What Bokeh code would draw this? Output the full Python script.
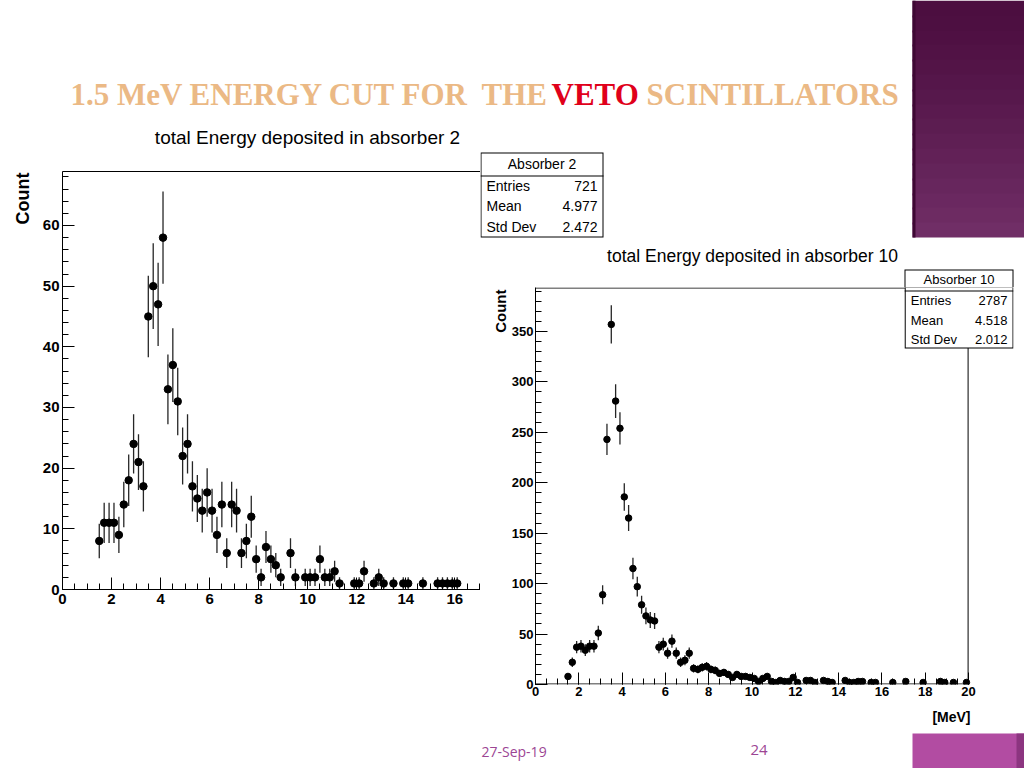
import numpy as np
from bokeh.plotting import figure
from bokeh.models import (Range1d, SingleIntervalTicker, FixedTicker, LinearAxis,
                          Label, BoxAnnotation, ColumnDataSource)
from bokeh.layouts import row, column
from bokeh.embed import file_html
from bokeh.resources import INLINE

# ---------------- data ----------------
abs2_energy = [1.5, 1.7, 1.9, 2.1, 2.3, 2.5, 2.7, 2.9, 3.1, 3.3,
               3.5, 3.7, 3.9, 4.1, 4.3, 4.5, 4.7,
               4.9, 5.1, 5.3, 5.5, 5.7, 5.9, 6.1, 6.3, 6.5, 6.7,
               6.9, 7.1, 7.3, 7.5, 7.7, 7.9, 8.1, 8.3, 8.5, 8.7, 8.9,
               9.3, 9.5, 9.9, 10.1, 10.3, 10.5, 10.7, 10.9, 11.1, 11.3,
               11.9, 12.1, 12.3, 12.7, 12.9, 13.1, 13.5, 13.9, 14.1, 14.7,
               15.3, 15.5, 15.7, 15.9, 16.1]
abs2_count = [8, 11, 11, 11, 9, 14, 18, 24, 21, 17,
              45, 50, 47, 58, 33, 37, 31,
              22, 24, 17, 15, 13, 16, 13, 9, 14, 6,
              14, 13, 6, 8, 12, 5, 2, 7, 5, 4, 2,
              6, 2, 2, 2, 2, 5, 2, 2, 3, 1,
              1, 1, 3, 1, 2, 1, 1, 1, 1, 1,
              1, 1, 1, 1, 1]

abs10_energy = [1.5, 1.7, 1.9, 2.1, 2.3, 2.5, 2.7, 2.9, 3.1, 3.3,
                3.5, 3.7, 3.9, 4.1, 4.3, 4.5, 4.7, 4.9, 5.1, 5.3,
                5.5, 5.7, 5.9, 6.1, 6.3, 6.5, 6.7, 6.9, 7.1, 7.3,
                7.5, 7.7, 7.9, 8.1, 8.3, 8.5, 8.7, 8.9, 9.1, 9.3,
                9.5, 9.7, 9.9, 10.1, 10.3, 10.5, 10.7, 10.9, 11.1, 11.3,
                11.5, 11.7, 11.9, 12.1, 12.5, 12.7, 12.9, 13.3, 13.5, 13.7,
                14.3, 14.5, 14.7, 14.9, 15.1, 15.5, 15.7, 16.5, 17.1, 17.9,
                18.7, 18.9, 19.3, 19.9]
abs10_count = [8, 22, 37, 38, 34, 38, 38, 51, 89, 243,
               357, 281, 254, 186, 165, 115, 97, 79, 68, 64,
               63, 37, 40, 31, 43, 31, 22, 24, 31, 16,
               15, 17, 18, 15, 14, 11, 12, 10, 7, 10,
               8, 8, 7, 6, 3, 6, 8, 3, 2, 4,
               3, 3, 7, 2, 4, 4, 2, 4, 3, 2,
               4, 2, 2, 3, 3, 2, 2, 2, 3, 2,
               3, 2, 2, 2]

abs2_stats_title = "Absorber 2"
abs2_stats = [("Entries", "721"), ("Mean", "4.977"), ("Std Dev", "2.472")]
abs10_stats_title = "Absorber 10"
abs10_stats = [("Entries", "2787"), ("Mean", "4.518"), ("Std Dev", "2.012")]

title_part1 = "1.5 MeV ENERGY CUT FOR"
title_the, title_veto, title_scint = "THE", "VETO", "SCINTILLATORS"
hist2_title = "total Energy deposited in absorber 2"
hist10_title = "total Energy deposited in absorber 10"
y_label = "Count"
x_unit_label = "[MeV]"
footer_date = "27-Sep-19"
footer_page = "24"

# ---------------- geometry (page pixels) ----------------
A_XMAX, A_YMAX = 17.05, 68.9
B_XMAX, B_YMAX = 20.0, 393.6
A_FRAME = (62, 480, 171, 589)          # left, right, top, bottom
B_FRAME = (534, 1013, 287, 684)        # extended frame (stats box inside)
B_X20 = 968                            # pixel where x = 20

SANS = "Liberation Sans"
SERIF = "Liberation Serif"
PEACH = "#ebb985"


def lin(p0, p1, v0, v1):
    return lambda px: v0 + (px - p0) * (v1 - v0) / (p1 - p0)


def make_fig(canvas, frame, xr, yr, axes):
    cx0, cx1, cy0, cy1 = canvas
    fx0, fx1, fy0, fy1 = frame
    kw = dict(width=cx1 - cx0, height=cy1 - cy0,
              x_range=Range1d(*xr), y_range=Range1d(*yr),
              output_backend="svg", toolbar_location=None, title=None,
              min_border_left=fx0 - cx0, min_border_right=cx1 - fx1,
              min_border_top=fy0 - cy0, min_border_bottom=cy1 - fy1,
              background_fill_color="white", border_fill_color="white",
              outline_line_color=None)
    if not axes:
        kw.update(x_axis_type=None, y_axis_type=None)
    p = figure(**kw)
    if "frame_align" in p.properties():
        p.frame_align = False
    p.grid.visible = False
    return p


tiles = []


def decor_tile(canvas, frame=None):
    frame = frame or canvas
    p = make_fig(canvas, frame, (frame[0], frame[1]), (-frame[3], -frame[2]), False)
    tiles.append((p, (lambda v: v), (lambda v: -v), frame))
    return p


def style_axis(axis, size, standoff):
    axis.axis_line_color = "black"
    axis.axis_line_width = 1
    axis.major_tick_line_color = "black"
    axis.minor_tick_line_color = "black"
    axis.major_tick_in = 12
    axis.major_tick_out = 0
    axis.minor_tick_in = 6
    axis.minor_tick_out = 0
    axis.major_label_text_font = SANS
    axis.major_label_text_font_style = "bold"
    axis.major_label_text_font_size = size
    axis.major_label_text_color = "black"
    axis.major_label_standoff = standoff


def draw_hist(p, energy, count, msize):
    e = np.array(energy, dtype=float)
    c = np.array(count, dtype=float)
    err = np.sqrt(c)
    src = ColumnDataSource(dict(x=e, y=c, lo=c - err, hi=c + err))
    p.segment(x0="x", y0="lo", x1="x", y1="hi", source=src,
              line_color="#262626", line_width=1.3)
    p.scatter(x="x", y="y", source=src, marker="circle", size=msize,
              fill_color="black", line_color="black")


# ---------------- tiles ----------------
A_top = decor_tile((0, 480, 0, 150))
A_left = decor_tile((0, 38, 150, 768), (0, 38, 171, 589))

A_hist = make_fig((38, 480, 150, 768), A_FRAME, (0, A_XMAX), (0, A_YMAX), True)
A_hist.xaxis[0].ticker = SingleIntervalTicker(interval=2, num_minor_ticks=4)
A_hist.yaxis[0].ticker = SingleIntervalTicker(interval=10, num_minor_ticks=5)
style_axis(A_hist.xaxis[0], "15px", 4)
style_axis(A_hist.yaxis[0], "15px", 3)
A_hist.add_layout(LinearAxis(ticker=FixedTicker(ticks=[]), axis_line_color="black",
                             major_tick_in=0, major_tick_out=0, minor_tick_in=0,
                             minor_tick_out=0, major_label_text_font_size="0px"),
                  "above")
draw_hist(A_hist, abs2_energy, abs2_count, 7.5)
tiles.append((A_hist, lin(62, 480, 0, A_XMAX), lin(589, 171, 0, A_YMAX), A_FRAME))

B_top = decor_tile((480, 1024, 0, 287))
B_left = decor_tile((480, 508, 287, 706), (480, 508, 287, 684))

bx = lin(534, B_X20, 0, B_XMAX)
by = lin(684, 287, 0, B_YMAX)
B_hist = make_fig((508, 1024, 287, 706), B_FRAME, (0, bx(B_FRAME[1])), (0, B_YMAX), True)
B_hist.xaxis[0].ticker = FixedTicker(ticks=list(np.arange(0, 20.1, 2)),
                                     minor_ticks=list(np.arange(0, 20.01, 0.5)))
B_hist.yaxis[0].ticker = SingleIntervalTicker(interval=50, num_minor_ticks=5)
style_axis(B_hist.xaxis[0], "13px", 2)
style_axis(B_hist.yaxis[0], "13px", 2)
B_hist.xaxis[0].axis_line_color = None
draw_hist(B_hist, abs10_energy, abs10_count, 6.5)
tiles.append((B_hist, bx, by, B_FRAME))

B_bottom = decor_tile((480, 1024, 706, 768))

# ---------------- decorations, in page pixels ----------------
items = []


def add_rect(l, r, t, b, color):
    def f(p, fx, fy):
        p.add_layout(BoxAnnotation(left=fx(l), right=fx(r), top=fy(t), bottom=fy(b),
                                   fill_color=color, fill_alpha=1.0,
                                   line_color=None, line_alpha=0.0))
    items.append(((l, r, t, b), f))


def add_text(bbox, x, y, text, size, color="black", font=SANS, style="normal",
             align="left", baseline="middle", angle=0.0):
    def f(p, fx, fy):
        p.add_layout(Label(x=fx(x), y=fy(y), text=text, text_font=font,
                           text_font_size=size, text_font_style=style,
                           text_color=color, text_align=align,
                           text_baseline=baseline, angle=angle))
    items.append((bbox, f))


# purple block, top right (vertical gradient, strips overlap to avoid seams)
top_dark = np.array([76, 14, 64])
top_light = np.array([112, 46, 102])
n = 16
for i in range(n):
    t0 = round(i * 237 / n)
    t1 = min(237, round((i + 1) * 237 / n) + 2)
    c = top_dark + (top_light - top_dark) * (i / (n - 1)) ** 1.2
    add_rect(912, 1024, t0, t1, "#%02x%02x%02x" % tuple(int(v) for v in c))
add_rect(912, 915, 0, 237, "#3e0834")
# pink block, bottom right
add_rect(912, 1024, 733, 768, "#b24ca2")
add_rect(1016, 1024, 733, 768, "#8c3580")

# slide title
TY = 94
add_text((68, 472, 78, 110), 70, TY, title_part1, "31px", color=PEACH, font=SERIF,
         style="bold")
add_text((481, 547, 78, 110), 481, TY, title_the, "31px", color=PEACH, font=SERIF,
         style="bold")
add_text((551, 642, 78, 110), 551, TY, title_veto, "31px", color="#e0001a", font=SERIF,
         style="bold")
add_text((646, 905, 78, 110), 646, TY, title_scint, "31px", color=PEACH, font=SERIF,
         style="bold")

# histogram titles and axis texts
add_text((150, 465, 126, 149), 307, 137, hist2_title, "19px", align="center")
add_text((607, 897, 244, 266), 752, 255, hist10_title, "17.5px", align="center")
add_text((13, 32, 172, 226), 22.5, 172, y_label, "18px", style="bold", align="right",
         angle=np.pi / 2)
add_text((492, 507, 289, 340), 499.5, 289, y_label, "15px", style="bold", align="right",
         angle=np.pi / 2)
add_text((930, 972, 707, 725), 970, 716, x_unit_label, "14px", style="bold",
         align="right")

# frame lines of the right histogram (top, right, bottom)
add_rect(534, B_X20, 287, 288, "black")
add_rect(B_X20 - 1, B_X20, 287, 684, "black")
add_rect(534, B_X20, 683, 684, "black")


def add_stats(l, r, t, d, b, title, rows, row_y, size, head_y):
    add_rect(l, r, t, b, "black")
    add_rect(l + 1, r - 1, t + 1, b - 1, "white")
    add_rect(l, r, d, d + 1, "black")
    add_text((l + 10, r - 10, head_y - 7, head_y + 7), (l + r) / 2, head_y, title, size,
             align="center")
    for (name, val), yy in zip(rows, row_y):
        add_text((l + 6, l + 60, yy - 7, yy + 7), l + 6, yy, name, size)
        add_text((r - 45, r - 6, yy - 7, yy + 7), r - 6, yy, val, size, align="right")


add_stats(480, 603, 152, 175, 237, abs2_stats_title, abs2_stats,
          [185.5, 205.5, 226], "14px", 163.5)
add_stats(904, 1013, 269, 290, 348, abs10_stats_title, abs10_stats,
          [300, 320, 339], "13px", 279)

# footer
add_text((481, 548, 743, 759), 481, 751, footer_date, "14px", color="#9c4594",
         font="Open Sans")
add_text((750, 767, 741, 757), 750, 749, footer_page, "15px", color="#9c4594",
         font="Open Sans")

# draw every decoration into the tiles whose frame it touches
for bbox, f in items:
    l, r, t, b = bbox
    for p, fx, fy, fr in tiles:
        if l < fr[1] and r > fr[0] and t < fr[3] and b > fr[2]:
            f(p, fx, fy)

layout = row(column(A_top, row(A_left, A_hist)),
             column(B_top, row(B_left, B_hist), B_bottom))
open("out.html", "w").write(file_html(layout, INLINE))
